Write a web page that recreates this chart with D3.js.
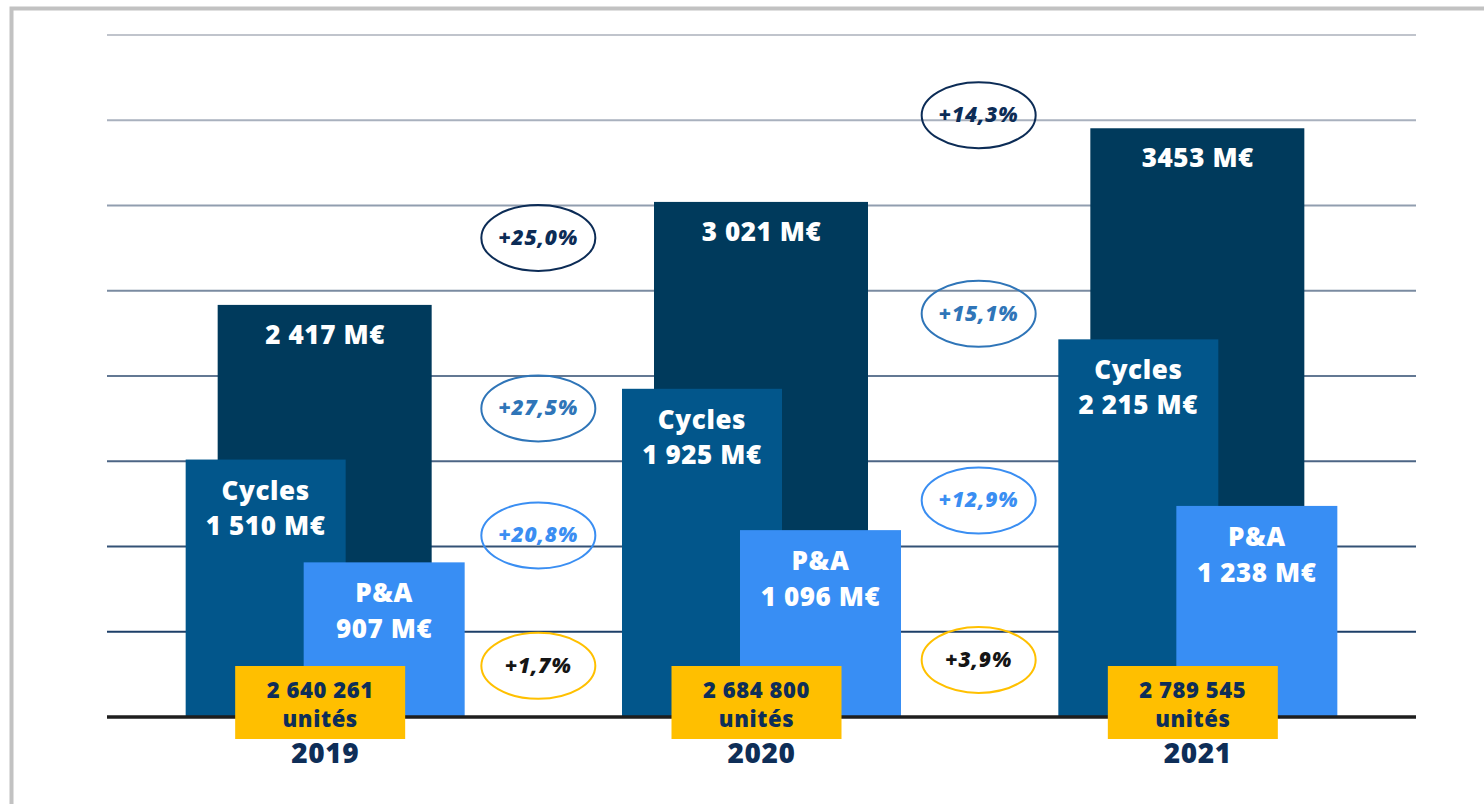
<!DOCTYPE html>
<html lang="fr">
<head>
    <meta charset="UTF-8">
    <title>Marché du cycle 2019-2021</title>
    <script src="https://cdn.jsdelivr.net/npm/d3@7"></script>
    <style>
        body { margin: 0; background: #fff; }
        text { font-family: "Open Sans", "DejaVu Sans", sans-serif; font-weight: 800; letter-spacing: 0.6px; }
        .pct { font-style: italic; font-weight: 800; letter-spacing: 0.8px; }
    </style>
</head>
<body>
<script>
    // données
    var years = ["2019", "2020", "2021"];
    var totalValues = [2417, 3021, 3453];
    var cyclesValues = [1510, 1925, 2215];
    var paValues = [907, 1096, 1238];
    var totalLabels = ["2 417 M€", "3 021 M€", "3453 M€"];
    var cyclesLabels = ["1 510 M€", "1 925 M€", "2 215 M€"];
    var paLabels = ["907 M€", "1 096 M€", "1 238 M€"];
    var unitLabels = ["2 640 261", "2 684 800", "2 789 545"];
    var totalGrowth = ["+25,0%", "+14,3%"];
    var cyclesGrowth = ["+27,5%", "+15,1%"];
    var paGrowth = ["+20,8%", "+12,9%"];
    var unitGrowth = ["+1,7%", "+3,9%"];
    var gridTicks = [500, 1000, 1500, 2000, 2500, 3000, 3500, 4000];

    var width = 1484, height = 804;
    var margin = {top: 35, left: 107, right: 68, bottom: 87};

    var svg = d3.select("body").append("svg")
        .attr("width", width)
        .attr("height", height);

    // cadre gris
    svg.append("path")
        .attr("d", "M11.5," + height + "V8.5H" + width)
        .attr("fill", "none")
        .attr("stroke", "#c2c2c2")
        .attr("stroke-width", 4);

    var x = d3.scaleBand().domain(years).range([margin.left, width - margin.right]).padding(0);
    var y = d3.scaleLinear().domain([0, 4000]).range([height - margin.bottom, margin.top]);
    var cx = function (yr) { return x(yr) + x.bandwidth() / 2; };

    var gridColor = d3.scaleLinear().domain([4000, 500]).range(["#c0c4cc", "#1d3f68"]);

    svg.append("g").selectAll("line")
        .data(gridTicks)
        .enter().append("line")
        .attr("x1", margin.left)
        .attr("x2", width - margin.right)
        .attr("y1", function (d) { return y(d); })
        .attr("y2", function (d) { return y(d); })
        .attr("stroke", function (d) { return gridColor(d); })
        .attr("stroke-width", 2);

    var groups = years.map(function (yr, i) {
        return {year: yr, total: totalValues[i], cycles: cyclesValues[i], pa: paValues[i],
            totalLabel: totalLabels[i], cyclesLabel: cyclesLabels[i], paLabel: paLabels[i], units: unitLabels[i]};
    });

    var g = svg.append("g").selectAll("g").data(groups).enter().append("g");

    function bar(sel, x0, w, key, color) {
        sel.append("rect")
            .attr("x", function (d) { return cx(d.year) + x0; })
            .attr("width", w)
            .attr("y", function (d) { return y(d[key]); })
            .attr("height", function (d) { return y(0) - y(d[key]); })
            .attr("fill", color);
    }

    bar(g, -107.5, 214, "total", "#003a5c");
    bar(g, -139.5, 160, "cycles", "#02568b");
    bar(g, -21.5, 161, "pa", "#388ef4");

    function label(sel, dx, key, dy, txt) {
        sel.append("text")
            .attr("x", function (d) { return cx(d.year) + dx; })
            .attr("y", function (d) { return y(d[key]) + dy; })
            .attr("text-anchor", "middle")
            .attr("fill", "#fff")
            .attr("font-size", 26)
            .text(txt);
    }

    label(g, 0, "total", 39, function (d) { return d.totalLabel; });
    label(g, -59.5, "cycles", 40, "Cycles");
    label(g, -59.5, "cycles", 75, function (d) { return d.cyclesLabel; });
    label(g, 59, "pa", 40, "P&A");
    label(g, 59, "pa", 76, function (d) { return d.paLabel; });

    // ligne de base
    svg.append("line")
        .attr("x1", margin.left)
        .attr("x2", width - margin.right)
        .attr("y1", y(0))
        .attr("y2", y(0))
        .attr("stroke", "#1e1e1e")
        .attr("stroke-width", 3.5);

    // unités vendues
    var u = svg.append("g").selectAll("g").data(groups).enter().append("g");
    u.append("rect")
        .attr("x", function (d) { return cx(d.year) - 90; })
        .attr("y", y(0) - 51)
        .attr("width", 170)
        .attr("height", 73)
        .attr("fill", "#ffbf00");
    u.append("text")
        .attr("x", function (d) { return cx(d.year) - 5; })
        .attr("y", y(0) - 19)
        .attr("text-anchor", "middle")
        .attr("fill", "#0e2e58")
        .attr("font-size", 22)
        .text(function (d) { return d.units; });
    u.append("text")
        .attr("x", function (d) { return cx(d.year) - 5; })
        .attr("y", y(0) + 10)
        .attr("text-anchor", "middle")
        .attr("fill", "#0e2e58")
        .attr("font-size", 22)
        .text("unités");

    // années
    u.append("text")
        .attr("x", function (d) { return cx(d.year); })
        .attr("y", y(0) + 46)
        .attr("text-anchor", "middle")
        .attr("fill", "#0e2e58")
        .attr("font-size", 28)
        .text(function (d) { return d.year; });

    // pastilles d'évolution (niveau en M€ sur l'axe)
    var badgeRows = [
        {labels: totalGrowth, levels: [2810, 3530], stroke: "#0c2c56", fill: "#0c2c56"},
        {labels: cyclesGrowth, levels: [1810, 2365], stroke: "#2f75b8", fill: "#2f75b8"},
        {labels: paGrowth, levels: [1065, 1270], stroke: "#3a8ef2", fill: "#3a8ef2"},
        {labels: unitGrowth, levels: [300, 335], stroke: "#ffc000", fill: "#151515"}
    ];
    var badgeX = [years[1], years[2]];
    var badges = [];
    badgeRows.forEach(function (r) {
        r.labels.forEach(function (l, i) {
            badges.push({label: l, level: r.levels[i], x: x(badgeX[i]) - 5 + i * 4, stroke: r.stroke, fill: r.fill});
        });
    });

    var b = svg.append("g").selectAll("g").data(badges).enter().append("g");
    b.append("ellipse")
        .attr("cx", function (d) { return d.x; })
        .attr("cy", function (d) { return y(d.level); })
        .attr("rx", 57)
        .attr("ry", 33)
        .attr("fill", "none")
        .attr("stroke", function (d) { return d.stroke; })
        .attr("stroke-width", 2);
    b.append("text")
        .attr("class", "pct")
        .attr("x", function (d) { return d.x; })
        .attr("y", function (d) { return y(d.level) + 7; })
        .attr("text-anchor", "middle")
        .attr("fill", function (d) { return d.fill; })
        .attr("font-size", 21)
        .text(function (d) { return d.label; });
</script>
</body>
</html>
